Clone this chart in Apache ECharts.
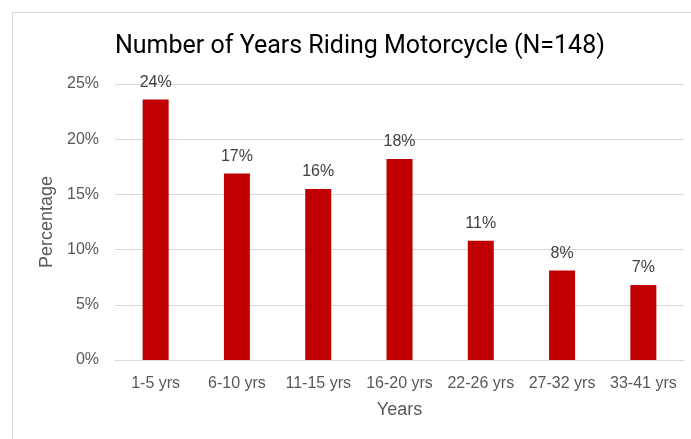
<!DOCTYPE html>
<html>
<head>
<meta charset="utf-8">
<script src="https://cdn.jsdelivr.net/npm/echarts@6/dist/echarts.min.js"></script>
<style>
	html, body { margin: 0; padding: 0; background: #fff; }
	#frame { position: absolute; left: 12px; top: 12px; width: 700px; height: 450px; border: 1px solid #d9d9d9; box-sizing: border-box; }
	#chart { position: absolute; left: 0; top: 0; width: 691px; height: 439px; }
</style>
</head>
<body>
<div id="frame"></div>
<div id="chart"></div>
<script>
	// 类别与数值
	var categories = ['1-5 yrs', '6-10 yrs', '11-15 yrs', '16-20 yrs', '22-26 yrs', '27-32 yrs', '33-41 yrs'];
	var percentValues = [23.6, 16.9, 15.5, 18.2, 10.8, 8.1, 6.8];
	var yTicks = [0, 5, 10, 15, 20, 25];

	var labelFont = '"Liberation Sans", Arial, sans-serif';
	var myChart = echarts.init(document.getElementById('chart'));

	var option = {
		backgroundColor: 'transparent',
		animation: false,
		title: {
			text: 'Number of Years Riding Motorcycle (N=148)',
			left: 110,
			top: 29,
			textStyle: {
				fontFamily: '"Roboto", sans-serif',
				fontWeight: 'normal',
				fontSize: 25,
				color: '#000'
			}
		},
		grid: {
			left: 115,
			right: 7,
			top: 84,
			bottom: 79
		},
		xAxis: {
			type: 'category',
			data: categories,
			name: 'Years',
			nameLocation: 'middle',
			nameGap: 41,
			nameTextStyle: { fontFamily: labelFont, fontSize: 18, color: '#595959' },
			axisLine: { lineStyle: { color: '#d9d9d9', width: 1 } },
			axisTick: { show: false },
			axisLabel: { interval: 0, fontFamily: labelFont, fontSize: 16, color: '#595959', margin: 16 }
		},
		yAxis: {
			type: 'value',
			min: yTicks[0],
			max: yTicks[yTicks.length - 1],
			interval: 5,
			name: 'Percentage',
			nameLocation: 'middle',
			nameGap: 58,
			nameTextStyle: { fontFamily: labelFont, fontSize: 18, color: '#595959' },
			axisLine: { show: false },
			axisTick: { show: false },
			axisLabel: {
				fontFamily: labelFont, fontSize: 16, color: '#595959', margin: 16,
				formatter: function (v) { return v + '%'; }
			},
			splitLine: { lineStyle: { color: '#d9d9d9', width: 1 } }
		},
		series: [
			{
				type: 'bar',
				data: percentValues,
				barWidth: 26,
				itemStyle: { color: '#c00000' },
				label: {
					show: true,
					position: 'top',
					distance: 9,
					fontFamily: labelFont,
					fontSize: 16,
					color: '#404040',
					formatter: function (p) { return Math.round(p.value) + '%'; }
				}
			}
		]
	};

	myChart.setOption(option);
</script>
</body>
</html>
